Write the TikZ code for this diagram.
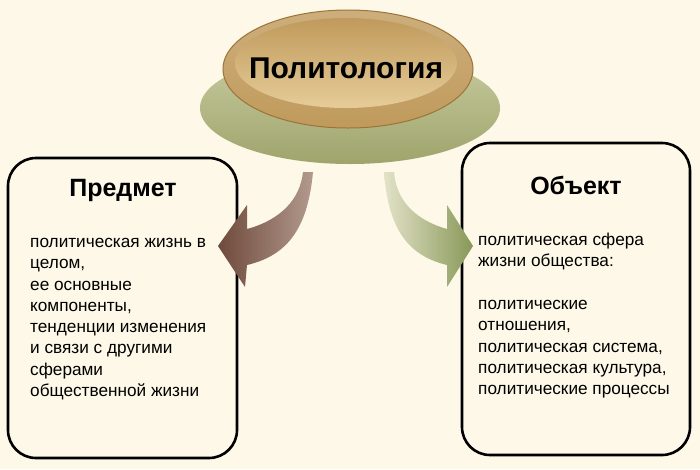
\documentclass[tikz,border=0pt]{standalone}
\usepackage{fontspec}
\setmainfont{Liberation Sans}
\usetikzlibrary{shapes.geometric,positioning}
\definecolor{bgcream}{HTML}{FDF8E7}
\definecolor{discgold}{HTML}{C09A5C}
\definecolor{discedge}{HTML}{9C7438}
\definecolor{disclight}{HTML}{E6CC98}
\definecolor{baseolive}{HTML}{9FA46C}
\definecolor{baselight}{HTML}{C8CCA0}
\definecolor{arrbrownA}{HTML}{6E4A3C}
\definecolor{arrbrownB}{HTML}{B39A8E}
\definecolor{arrgreenA}{HTML}{E2E2C8}
\definecolor{arrgreenB}{HTML}{889858}
\begin{document}
\begin{tikzpicture}[
        x=1pt, y=-1pt,
        panel/.style={rectangle, draw=black, line width=2.6pt, rounded corners=28pt, fill=bgcream},
        heading/.style={font=\fontsize{25}{28}\selectfont\bfseries},
        bodytext/.style={font=\fontsize{17.2}{21.3}\selectfont, align=left, anchor=north west, inner sep=0pt},
    ]
        % Background
        \fill[bgcream] (0,0) rectangle (700,469);
        \useasboundingbox (0,0) rectangle (700,469);

        % Boxes
        \node (subject) [panel, minimum width=229pt, minimum height=300pt] at (122.5,308) {};
        \node (object) [panel, minimum width=228pt, minimum height=312pt] at (576,299) {};
        \node (subjecthead) [heading] at (123,190) {Предмет};
        \node (objecthead) [heading] at (576,185) {Объект};

        % Disc
        \node (base) [ellipse, top color=baselight, bottom color=baseolive, minimum width=300pt, minimum height=112pt, inner sep=0pt] at (350,108) {};
        \node (disc) [ellipse, draw=discedge, line width=1pt, top color=discgold!80!white, bottom color=discgold, minimum width=250pt, minimum height=118pt, inner sep=0pt] at (348,69) {};
        \node (discin) [ellipse, top color=discgold, bottom color=disclight, minimum width=222pt, minimum height=90pt, inner sep=0pt] at (346,63) {};
        \node (title) [font=\fontsize{30}{33}\selectfont\bfseries] at (346,68) {Политология};

        % Arrows
        \shade[left color=arrbrownA, right color=arrbrownB]
            (313,172) .. controls (308,225) and (290,255) .. (247,265)
            -- (245,287) -- (218,246) -- (247,205) -- (247,229)
            .. controls (280,220) and (300,200) .. (303,172) -- cycle;
        \shade[left color=arrgreenA, right color=arrgreenB]
            (384,172) .. controls (388,225) and (405,255) .. (447,265)
            -- (447,287) -- (473,246) -- (447,205) -- (447,229)
            .. controls (415,220) and (396,200) .. (394,172) -- cycle;

        % Texts
        \node (subjecttext) [bodytext] at (30,238) {политическая жизнь в\\целом,\\ее основные\\компоненты,\\тенденции изменения\\и связи с другими\\сферами\\общественной жизни};
        \node (objecttext) [bodytext] at (478,233) {политическая сфера\\жизни общества:\\[21.3pt]политические\\отношения,\\политическая система,\\политическая культура,\\политические процессы};
    \end{tikzpicture}
\end{document}
